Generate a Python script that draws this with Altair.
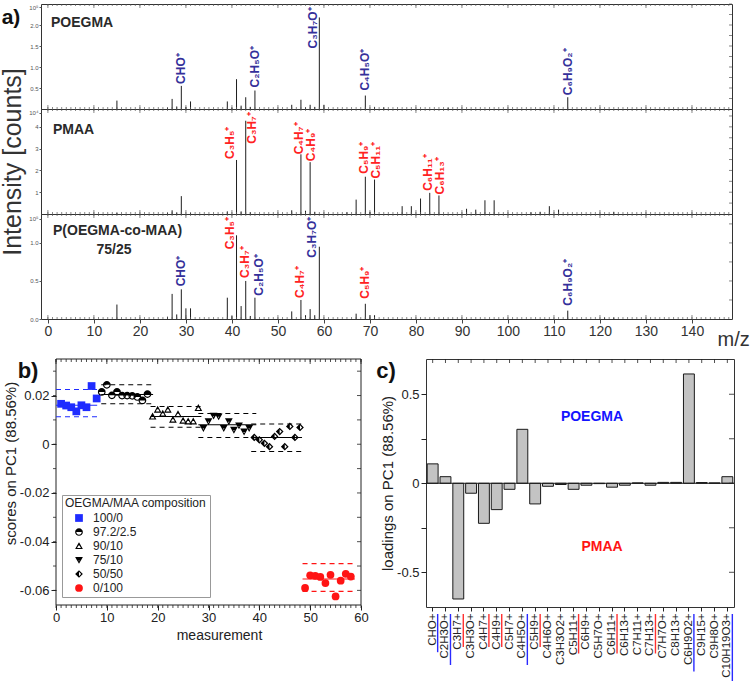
import altair as alt
import pandas as pd

FONT = "Liberation Sans"
INK = "#2a2a2a"
ION_BLUE = "#34309a"
ION_RED = "#ff2222"

# ---------------- a) spectra (intensity in units of the axis multiplier) ----------------
poegma_mz = [15, 26, 27, 28, 29, 30, 31, 39, 40, 41, 42, 43, 44, 45, 53, 55, 56, 57, 58, 59, 60, 69, 71, 73, 87, 113]
poegma_int = [0.20, 0.03, 0.24, 0.06, 0.55, 0.05, 0.18, 0.18, 0.03, 0.71, 0.08, 0.28, 0.05, 0.44, 0.10, 0.22, 0.04,
              0.10, 0.05, 2.18, 0.10, 0.32, 0.05, 0.04, 0.03, 0.28]

pmaa_mz = [15, 26, 27, 28, 29, 31, 39, 41, 42, 43, 44, 53, 55, 56, 57, 58, 65, 67, 69, 70, 71, 77, 79, 81, 83, 85,
           91, 93, 95, 97, 105, 107, 109, 111, 123]
pmaa_int = [0.05, 0.05, 0.17, 0.06, 0.82, 0.05, 0.12, 2.48, 0.12, 4.28, 0.08, 0.17, 2.74, 0.15, 2.38, 0.10, 0.08,
            0.66, 1.71, 0.10, 1.58, 0.36, 0.36, 0.71, 0.97, 0.85, 0.24, 0.20, 0.63, 0.63, 0.08, 0.10, 0.36, 0.20, 0.10]

copo_mz = [15, 26, 27, 28, 29, 30, 31, 39, 40, 41, 42, 43, 44, 45, 53, 55, 56, 57, 58, 59, 67, 69, 70, 71, 113, 121, 123]
copo_int = [0.19, 0.03, 0.33, 0.06, 0.39, 0.14, 0.14, 0.28, 0.04, 1.10, 0.17, 0.50, 0.04, 0.28, 0.10, 0.25, 0.05,
            0.13, 0.05, 0.95, 0.07, 0.20, 0.05, 0.05, 0.11, 0.02, 0.02]

poegma_ann_mz = [29, 45, 59, 69, 113]
poegma_ann_txt = ["CHO⁺", "C₂H₅O⁺", "C₃H₇O⁺", "C₄H₅O⁺", "C₆H₉O₂⁺"]
pmaa_ann_mz = [41, 43, 55, 57, 69, 71, 83, 85]
pmaa_ann_txt = ["C₃H₅⁺", "C₃H₇⁺", "C₄H₇⁺", "C₄H₉⁺", "C₅H₉⁺", "C₅H₁₁⁺", "C₆H₁₁⁺", "C₆H₁₃⁺"]
copo_ann_mz = [29, 41, 43, 45, 55, 59, 69, 113]
copo_ann_txt = ["CHO⁺", "C₃H₅⁺", "C₃H₇⁺", "C₂H₅O⁺", "C₄H₇⁺", "C₃H₇O⁺", "C₅H₉⁺", "C₆H₉O₂⁺"]
oegma_ions = {"CHO⁺", "C₂H₅O⁺", "C₃H₇O⁺", "C₄H₅O⁺", "C₆H₉O₂⁺"}

# label placement relative to peak top: (horizontal px, upward px)
ann_offsets = {
    ("POEGMA", 29): (0, 2), ("POEGMA", 45): (0, 3), ("POEGMA", 59): (-6, -31), ("POEGMA", 69): (0, 5),
    ("POEGMA", 113): (0, 2),
    ("PMAA", 41): (-7, 1), ("PMAA", 43): (6, -23), ("PMAA", 55): (-2, 0), ("PMAA", 57): (1, 1),
    ("PMAA", 69): (-1, 3), ("PMAA", 71): (1, 1), ("PMAA", 83): (-2, 2), ("PMAA", 85): (1, 1),
    ("COPO", 29): (0, 3), ("COPO", 41): (-7, -14), ("COPO", 43): (-1, 3), ("COPO", 45): (4, 2),
    ("COPO", 55): (-1, 2), ("COPO", 59): (-7, -11), ("COPO", 69): (0, 5), ("COPO", 113): (0, 5),
}

XA_DOM = [-1.5, 148.7]
WA, HA = 691, 105
PX_PER_MZ = WA / (XA_DOM[1] - XA_DOM[0])


def text_layer(txt, x, y, size=14, weight="bold", color=INK, align="left", angle=0):
    return alt.Chart(pd.DataFrame({"t": [txt]})).mark_text(
        align=align, baseline="middle", fontSize=size, fontWeight=weight, color=color, font=FONT, angle=angle
    ).encode(text="t:N", x=alt.value(x), y=alt.value(y))


def spectrum(key, mz, inten, ymax, yticks, exp_tick, exp_txt, fmt, ann_mz, ann_txt, names,
             bottom=False, ytitle=None, extra=None):
    xs = alt.Scale(domain=XA_DOM, nice=False, zero=False)
    ys = alt.Scale(domain=[0, ymax], nice=False, zero=False)
    df = pd.DataFrame({"mz": mz, "v": inten})
    df["z"] = 0.0
    px_per_y = HA / ymax
    lookup = dict(zip(mz, inten))
    ann = pd.DataFrame({
        "x": [m + ann_offsets[(key, m)][0] / PX_PER_MZ for m in ann_mz],
        "y": [lookup[m] + ann_offsets[(key, m)][1] / px_per_y for m in ann_mz],
        "t": ann_txt,
        "c": [ION_BLUE if t in oegma_ions else ION_RED for t in ann_txt],
    })
    yaxis_kw = dict(
        values=yticks + [exp_tick],
        labelExpr=f"datum.value > {exp_tick - 1e-6} ? '{exp_txt}' : format(datum.value, '{fmt}')",
        labelFontSize=6, labelColor="#555", tickSize=2, tickColor="#555", labelPadding=1,
        domain=False, grid=False, labelOverlap=False, labelBound=False, labelFlush=False,
    )
    if ytitle:
        yaxis_kw.update(title=ytitle, titleFontSize=25, titleFontWeight="normal", titleColor="#333",
                        titlePadding=3, titleFont=FONT)
    else:
        yaxis_kw.update(title=None)
    if bottom:
        xaxis = alt.Axis(values=list(range(0, 141, 10)), labelFontSize=14, labelColor="#333", tickSize=4,
                         tickColor="#444", labelPadding=1, domain=False, grid=False, labelFlush=False,
                         title="m/z", titleFontSize=20, titleFontWeight="normal", titleColor="#333",
                         titleX=676, titleY=26, titleAlign="left", titleBaseline="alphabetic")
    else:
        xaxis = None

    bars = alt.Chart(df).mark_rule(color="#1e1e1e", strokeWidth=1).encode(
        x=alt.X("mz:Q", scale=xs, axis=xaxis),
        y=alt.Y("v:Q", scale=ys, axis=alt.Axis(**yaxis_kw)),
        y2="z:Q",
    )
    labels = alt.Chart(ann).mark_text(angle=270, align="left", baseline="middle", fontSize=12,
                                      fontWeight="bold", font=FONT, clip=True).encode(
        x=alt.X("x:Q", scale=xs, axis=None), y=alt.Y("y:Q", scale=ys, axis=None),
        text="t:N", color=alt.Color("c:N", scale=None))

    tdf = pd.DataFrame({"t": list(range(0, 149))})
    layers = [bars, labels]
    for (y0, y1, filt) in [(0, 2, None), (0, 4, "datum.t % 10 == 0"), (HA, HA - 2, None),
                           (HA, HA - 4, "datum.t % 10 == 0")]:
        ch = alt.Chart(tdf)
        if filt:
            ch = ch.transform_filter(filt)
        layers.append(ch.mark_rule(color="#555", strokeWidth=0.7).encode(
            x=alt.X("t:Q", scale=xs, axis=None), y=alt.value(y0), y2=alt.value(y1)))
    step = yticks[1] - yticks[0]
    rvals = [i * step / 2 for i in range(1, int(ymax / (step / 2)) + 1)]
    layers.append(alt.Chart(pd.DataFrame({"t": rvals})).mark_rule(color="#555", strokeWidth=0.7).encode(
        y=alt.Y("t:Q", scale=ys, axis=None), x=alt.value(WA), x2=alt.value(WA - 3)))
    for nm in names:
        layers.append(text_layer(*nm))
    if extra:
        layers += extra
    return alt.layer(*layers).resolve_axis(x="independent", y="independent").properties(width=WA, height=HA)


p1 = spectrum("POEGMA", poegma_mz, poegma_int, 2.5, [0.5, 1.0, 1.5, 2.0], 2.42, "10⁵", ".1f",
              poegma_ann_mz, poegma_ann_txt, [("POEGMA", 10, 19)],
              extra=[text_layer("a)", -30, 14, size=21, align="center", color="#111")])
p2 = spectrum("PMAA", pmaa_mz, pmaa_int, 4.82, [1, 2, 3, 4], 4.65, "10⁴", ".0f",
              pmaa_ann_mz, pmaa_ann_txt, [("PMAA", 12, 21)], ytitle="Intensity [counts]")
p3 = spectrum("COPO", copo_mz, copo_int, 1.38, [0.0, 0.5, 1.0], 1.32, "10⁵", ".1f",
              copo_ann_mz, copo_ann_txt,
              [("P(OEGMA-co-MAA)", 12, 17), ("75/25", 73, 36, 14, "bold", INK, "center")], bottom=True)
top = alt.vconcat(p1, p2, p3, spacing=0, bounds="flush")

# ---------------- b) PC1 scores ----------------
groups = ["100/0", "97.2/2.5", "90/10", "75/10", "50/50", "0/100"]
meas_100_0 = [1, 2, 3, 4, 5, 6, 7, 8]
score_100_0 = [0.0166, 0.0159, 0.0152, 0.0135, 0.0160, 0.0152, 0.0239, 0.0188]
meas_97_2 = [9, 10, 11, 12, 13, 14, 15, 16, 17, 18]
score_97_2 = [0.0215, 0.0244, 0.0201, 0.0215, 0.0200, 0.0200, 0.0199, 0.0194, 0.0180, 0.0206]
meas_90_10 = [19, 20, 21, 22, 23, 24, 25, 26, 27, 28]
score_90_10 = [0.0114, 0.0142, 0.0126, 0.0142, 0.0101, 0.0124, 0.0097, 0.0094, 0.0094, 0.0149]
meas_75_10 = [29, 30, 31, 32, 33, 34, 35, 36, 37, 38]
score_75_10 = [0.0066, 0.0094, 0.0117, 0.0114, 0.0066, 0.0094, 0.0059, 0.0077, 0.0052, 0.0066]
meas_50_50 = [39, 40, 41, 42, 43, 44, 45, 46, 47, 48]
score_50_50 = [0.0028, 0.0018, 0.0004, -0.0010, 0.0032, 0.0052, -0.0010, 0.0073, 0.0028, 0.0069]
meas_0_100 = [49, 50, 51, 52, 53, 54, 55, 56, 57, 58]
score_0_100 = [-0.0590, -0.0538, -0.0540, -0.0545, -0.0570, -0.0536, -0.0625, -0.0560, -0.0532, -0.0543]

grp_start = [0, 8.9, 18.6, 28.0, 38.4, 48.5]
grp_end = [8.1, 19.1, 28.6, 39.4, 48.4, 58.8]
grp_mean = [0.0160, 0.0204, 0.0114, 0.0080, 0.0028, -0.0553]
grp_upper = [0.0225, 0.0244, 0.0155, 0.0126, 0.0083, -0.0490]
grp_lower = [0.0113, 0.0166, 0.0070, 0.0028, -0.0030, -0.0604]

group_colors = ["#1f2cff", "#000000", "#000000", "#000000", "#000000", "#ff1414"]

RING = "M-1,0A1,1,0,1,1,1,0A1,1,0,1,1,-1,0Z M-0.7,0A0.7,0.7,0,1,0,0.7,0A0.7,0.7,0,1,0,-0.7,0Z"
HALF_CIRCLE = RING + " M-1,0A1,1,0,0,1,1,0Z"
TRI_UP = ("M0,-1L1,0.8L-1,0.8Z M0,-0.4L-0.5,0.5L0.5,0.5Z M0,-1L0.5,-0.1L-0.5,-0.1Z")
TRI_DOWN = ("M0,1L-1,-0.8L1,-0.8Z M0,0.4L0.5,-0.5L-0.5,-0.5Z M-1,-0.8L1,-0.8L0.5,0.1L-0.5,0.1Z")
DIAMOND = ("M0,-1L1,0L0,1L-1,0Z M0,-0.55L-0.55,0L0,0.55L0.55,0Z M0,-1L0,1L-1,0Z")
group_shapes = ["square", HALF_CIRCLE, TRI_UP, TRI_DOWN, DIAMOND, "circle"]

rows = []
for g, ms, ss in zip(groups, [meas_100_0, meas_97_2, meas_90_10, meas_75_10, meas_50_50, meas_0_100],
                     [score_100_0, score_97_2, score_90_10, score_75_10, score_50_50, score_0_100]):
    rows += [{"g": g, "m": m, "s": s} for m, s in zip(ms, ss)]
bdf = pd.DataFrame(rows)
ldf = pd.DataFrame({"g": groups, "x1": grp_start, "x2": grp_end, "mean": grp_mean,
                    "up": grp_upper, "lo": grp_lower, "col": group_colors})

# the panel-b view reaches LEAD px left of the data frame so the top row can sit further left
B_PLOT_W, HB, LEAD = 305, 246, 15
B_XMAX = 60
B_XMIN = -LEAD * B_XMAX / B_PLOT_W
WB = B_PLOT_W + LEAD
B_YDOM = [-0.066, 0.035]
PXU = B_PLOT_W / B_XMAX
bx = alt.Scale(domain=[B_XMIN, B_XMAX], nice=False, zero=False)
by = alt.Scale(domain=B_YDOM, nice=False, zero=False)
num_expr = ("datum.value == 0 ? '0' : (datum.value < 0 ? '-' + format(-datum.value, '{f}') : "
            "format(datum.value, '{f}'))")

legend = alt.Legend(title="OEGMA/MAA composition", orient="none", legendX=LEAD + 6, legendY=136,
                    titleFontSize=12, titleFontWeight="normal", titleColor="#222", titleFont=FONT,
                    labelFontSize=12, labelColor="#222", labelFont=FONT, symbolSize=60,
                    symbolStrokeWidth=0, strokeColor="#999", fillColor="white", padding=3,
                    rowPadding=2, titlePadding=2, symbolOffset=8, labelOffset=8)

bpts = alt.Chart(bdf).mark_point(filled=True, size=60, opacity=1, strokeWidth=0).encode(
    x=alt.X("m:Q", scale=bx, axis=alt.Axis(values=list(range(0, 61, 10)), labelFontSize=13, labelColor="#222",
                                           tickSize=5, tickColor="#222", labelPadding=1, domain=False,
                                           grid=False, labelFlush=False, title="measurement",
                                           titleFontSize=14, titleFontWeight="normal", titleColor="#222",
                                           titleX=LEAD + 163, titleY=30, titleAlign="center",
                                           titleBaseline="middle")),
    y=alt.Y("s:Q", scale=by, axis=alt.Axis(values=[-0.06, -0.04, -0.02, 0, 0.02], offset=-LEAD,
                                           labelExpr=num_expr.format(f=".2f"), labelFontSize=13,
                                           labelColor="#222", tickSize=5, tickColor="#222", labelPadding=2,
                                           domain=False, grid=False, labelFlush=False,
                                           title="scores on PC1 (88.56%)", titleFontSize=15,
                                           titleFontWeight="normal", titleColor="#222",
                                           titleX=-46, titleY=104, titleAngle=270, titleAlign="center",
                                           titleBaseline="middle")),
    shape=alt.Shape("g:N", scale=alt.Scale(domain=groups, range=group_shapes), legend=legend),
    color=alt.Color("g:N", scale=alt.Scale(domain=groups, range=group_colors), legend=legend),
)


def brule(ycol, dash=None):
    kw = dict(strokeWidth=1.1)
    if dash:
        kw["strokeDash"] = dash
    return alt.Chart(ldf).mark_rule(**kw).encode(
        x=alt.X("x1:Q", scale=bx, axis=None), x2="x2:Q", y=alt.Y(f"{ycol}:Q", scale=by, axis=None),
        color=alt.Color("col:N", scale=None))


bframe = alt.Chart(pd.DataFrame({"x0": [0.0], "x1": [float(B_XMAX)], "y0": [B_YDOM[0]], "y1": [B_YDOM[1]]})
                   ).mark_rect(fillOpacity=0, stroke="#222", strokeWidth=1).encode(
    x=alt.X("x0:Q", scale=bx, axis=None), x2="x1:Q", y=alt.Y("y0:Q", scale=by, axis=None), y2="y1:Q")

b_layers = [bframe, bpts, brule("mean"), brule("up", [5, 4]), brule("lo", [5, 4])]
xt = pd.DataFrame({"t": list(range(0, 61))})
for (y0, y1, filt) in [(0, 3, None), (0, 5, "datum.t % 10 == 0"), (HB, HB + 3, None)]:
    ch = alt.Chart(xt)
    if filt:
        ch = ch.transform_filter(filt)
    b_layers.append(ch.mark_rule(color="#222", strokeWidth=0.8).encode(
        x=alt.X("t:Q", scale=bx, axis=None), y=alt.value(y0), y2=alt.value(y1)))
yt = pd.DataFrame({"t": [-0.06, -0.05, -0.04, -0.03, -0.02, -0.01, 0, 0.01, 0.02, 0.03]})
yt["xr0"] = float(B_XMAX)
yt["xr1"] = B_XMAX - 4 / PXU
yt["xl0"] = 0.0
yt["xl1"] = -3 / PXU
b_layers.append(alt.Chart(yt).mark_rule(color="#222", strokeWidth=0.8).encode(
    y=alt.Y("t:Q", scale=by, axis=None), x=alt.X("xr0:Q", scale=bx, axis=None), x2="xr1:Q"))
b_layers.append(alt.Chart(yt).mark_rule(color="#222", strokeWidth=0.8).encode(
    y=alt.Y("t:Q", scale=by, axis=None), x=alt.X("xl0:Q", scale=bx, axis=None), x2="xl1:Q"))
b_layers.append(text_layer("b)", LEAD - 28, 12, size=22, align="center", color="#111"))
panel_b = alt.layer(*b_layers).resolve_axis(x="independent", y="independent").properties(
    width=WB, height=HB, view=alt.ViewBackground(strokeWidth=0, stroke="transparent"))

# ---------------- c) PC1 loadings ----------------
ions = ["CHO+", "C2H3O+", "C3H7+", "C3H3O+", "C4H7+", "C4H9+", "C5H7+", "C4H5O+", "C5H9+", "C4H6O+",
        "C3H3O2+", "C5H11+", "C6H9+", "C5H7O+", "C6H11+", "C6H13+", "C7H11+", "C7H13+", "C7H7O+", "C8H13+",
        "C6H9O2+", "C9H15+", "C9H8O+", "C10H19O3+"]
loadings = [0.109, 0.037, -0.650, -0.056, -0.225, -0.148, -0.034, 0.303, -0.116, -0.017, -0.007, -0.034,
            -0.011, -0.002, -0.022, -0.011, 0.002, -0.011, 0.005, 0.005, 0.614, 0.004, 0.002, 0.037]
poegma_marker_ions = ["CHO+", "C2H3O+", "C4H5O+", "C6H9O2+", "C10H19O3+"]
pmaa_marker_ions = ["C3H7+", "C4H7+", "C4H9+", "C5H9+", "C5H11+", "C6H11+", "C7H13+"]

WC, HC = 308, 248
cx = alt.Scale(domain=ions, paddingInner=0.15, paddingOuter=0.095)
cy = alt.Scale(domain=[-0.695, 0.698], nice=False, zero=False)
cdf = pd.DataFrame({"ion": ions, "v": loadings})

cbars = alt.Chart(cdf).mark_bar(color="#c3c3c3", stroke="#1a1a1a", strokeWidth=1).encode(
    x=alt.X("ion:N", sort=ions, scale=cx,
            axis=alt.Axis(labelAngle=270, labelAlign="right", labelBaseline="middle", labelFontSize=11.5,
                          labelColor="#222", tickSize=4, tickColor="#222", labelPadding=2, domain=False,
                          grid=False, title=None, labelOverlap=False, labelFont=FONT)),
    y=alt.Y("v:Q", scale=cy,
            axis=alt.Axis(values=[-0.5, -0.25, 0, 0.25, 0.5],
                          labelExpr="abs(datum.value) == 0.25 ? '' : (" + num_expr.format(f=".1f") + ")",
                          labelFontSize=13, labelColor="#222", tickSize=5, tickColor="#222", labelPadding=2,
                          domain=False, grid=False, labelFlush=False, title="loadings on PC1 (88.56%)",
                          titleFontSize=15, titleFontWeight="normal", titleColor="#222", titlePadding=1)),
)
czero = alt.Chart(pd.DataFrame({"z": [0.0]})).mark_rule(color="#1a1a1a", strokeWidth=1).encode(
    y=alt.Y("z:Q", scale=cy, axis=None))
ctop = alt.Chart(cdf).mark_rule(color="#222", strokeWidth=0.8).encode(
    x=alt.X("ion:N", sort=ions, scale=cx, axis=None), y=alt.value(0), y2=alt.value(4))
cright = alt.Chart(pd.DataFrame({"t": [-0.5, -0.25, 0, 0.25, 0.5]})).mark_rule(color="#222", strokeWidth=0.8).encode(
    y=alt.Y("t:Q", scale=cy, axis=None), x=alt.value(WC), x2=alt.value(WC - 5))


def label_len(s):
    w = {"C": 8.3, "H": 8.3, "O": 8.9, "+": 6.7}
    return sum(w.get(ch, 6.4) for ch in s)


mk = pd.DataFrame({
    "ion": poegma_marker_ions + pmaa_marker_ions,
    "col": ["#2a2aff"] * len(poegma_marker_ions) + ["#ff3030"] * len(pmaa_marker_ions),
})
mk["y0"] = HC + 7
mk["y1"] = [HC + 7 + label_len(s) + (6 if c == "#2a2aff" else -3) for s, c in zip(mk["ion"], mk["col"])]
cmark = alt.Chart(mk).mark_rule(strokeWidth=1.4, xOffset=5).encode(
    x=alt.X("ion:N", sort=ions, scale=cx, axis=None),
    y=alt.Y("y0:Q", scale=None, axis=None), y2="y1:Q", color=alt.Color("col:N", scale=None))

panel_c = alt.layer(
    cbars, czero, ctop, cright, cmark,
    text_layer("POEGMA", 166, 58, size=14, color="#1414ff", align="center"),
    text_layer("PMAA", 176, 188, size=14, color="#ff1414", align="center"),
    text_layer("c)", -40, 12, size=22, align="center", color="#111"),
).resolve_scale(y="independent").resolve_axis(x="independent", y="independent").properties(width=WC, height=HC)

bottom = alt.hconcat(panel_b, panel_c, spacing=6).resolve_scale(color="independent", shape="independent")

chart = alt.vconcat(top, bottom, spacing=8).resolve_scale(
    color="independent", shape="independent"
).properties(
    padding={"left": 0, "top": 3, "right": 0, "bottom": 0}
).configure(font=FONT).configure_view(stroke="#333", strokeWidth=1)

chart.save("out.html", embed_options={"renderer": "svg", "actions": False})
